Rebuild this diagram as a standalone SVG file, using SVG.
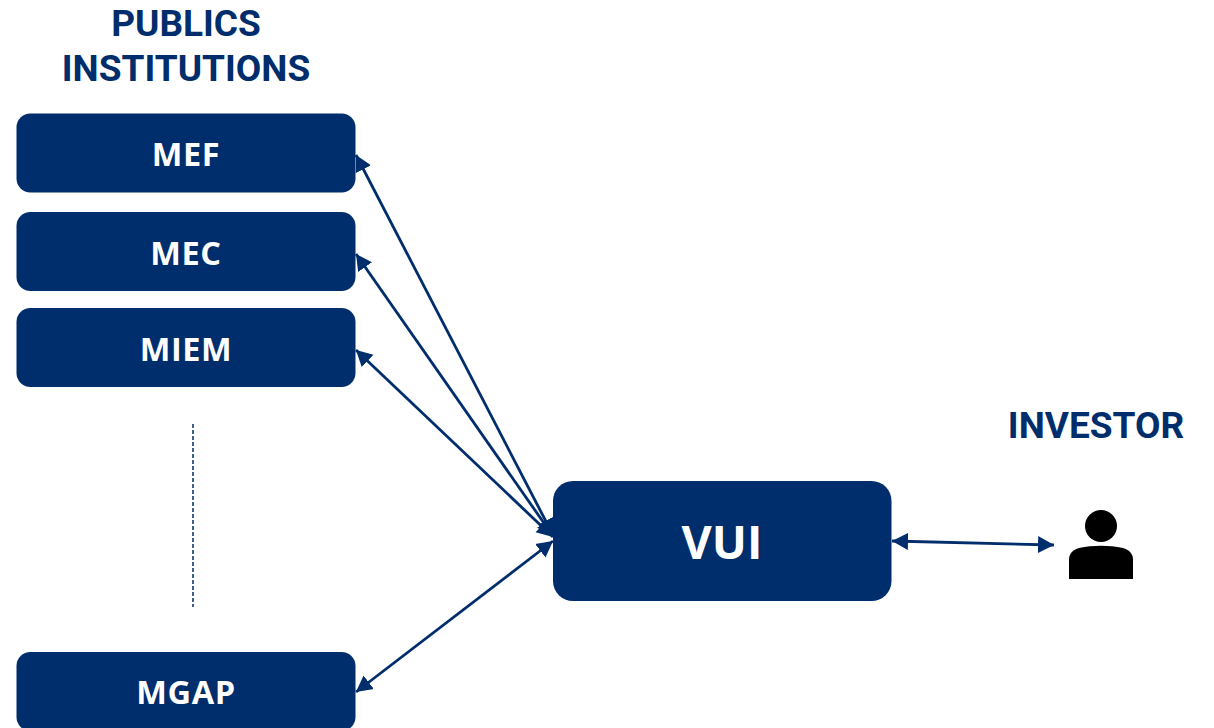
<svg xmlns="http://www.w3.org/2000/svg" width="1214" height="728" viewBox="0 0 1214 728">
<style>
.box{fill:#002d6b}
.h{font-family:Roboto,"Liberation Sans",sans-serif;font-weight:700;font-size:37px;fill:#002d6b;text-anchor:middle}
.n{font-family:"Open Sans","Liberation Sans",sans-serif;font-weight:700;font-size:32.500px;letter-spacing:.6px;fill:#fff;text-anchor:middle}
.c{fill:none;stroke:#002d6b;stroke-width:2.800;marker-start:url(#a);marker-end:url(#a)}
</style>
<defs>
<marker id="a" markerUnits="userSpaceOnUse" markerWidth="18" markerHeight="18" refX="16" refY="9" orient="auto-start-reverse" viewBox="0 0 18 18"><path d="M0 0.500L16 9L0 17.500Z" fill="#002d6b"/></marker>
</defs>
<rect width="1214" height="728" fill="#fff"/>
<g id="title"><text class="h" x="186" y="35.500">PUBLICS</text><text class="h" x="186" y="80.500">INSTITUTIONS</text></g>
<g id="MEF"><rect class="box" x="16.500" y="113.500" width="339" height="79" rx="14"/><text class="n" x="186" y="166">MEF</text></g>
<g id="MEC"><rect class="box" x="16.500" y="212" width="339" height="79" rx="14"/><text class="n" x="186" y="264.500">MEC</text></g>
<g id="MIEM"><rect class="box" x="16.500" y="308" width="339" height="79" rx="14"/><text class="n" x="186" y="360.500">MIEM</text></g>
<g id="MGAP"><rect class="box" x="16.500" y="652" width="339" height="79" rx="14"/><text class="n" x="186" y="704">MGAP</text></g>
<g id="VUI"><rect class="box" x="553" y="481" width="338.500" height="120" rx="20"/><text x="722" y="559" style="font-family:'Open Sans','Liberation Sans',sans-serif;font-weight:700;font-size:46.500px;fill:#fff;text-anchor:middle">VUI</text></g>
<g id="investor"><text class="h" x="1096" y="437.500">INVESTOR</text><circle cx="1101" cy="526" r="16"/><path d="M1069 579V560C1069 553 1073 550 1079 548C1093 545 1109 545 1123 548C1129 550 1133 553 1133 560V579Z"/></g>
<g id="connectors">
<path class="c" d="M356 155L553 535"/>
<path class="c" d="M356 254L553 536"/>
<path class="c" d="M356 350L553 537"/>
<path class="c" d="M356 692L553 541"/>
<path class="c" d="M892 541L1054 545"/>
<path d="M193 424V607" fill="none" stroke="#002d6b" stroke-width="1.500" stroke-dasharray="4 2"/>
</g>
</svg>
